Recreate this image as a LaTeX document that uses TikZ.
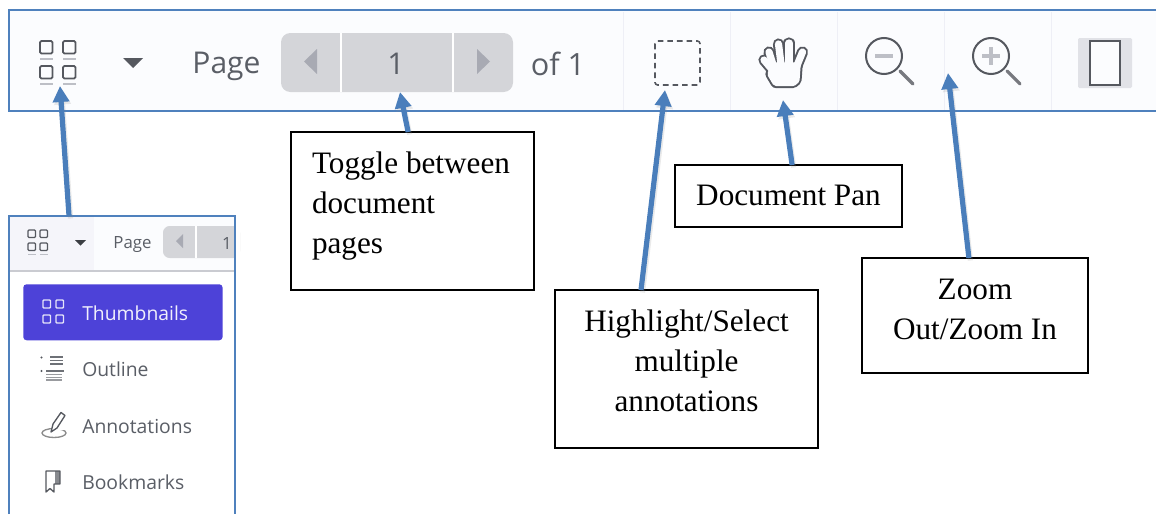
\documentclass[tikz,border=0pt]{standalone}
\usepackage{fontspec}
\setmainfont{Liberation Serif}
\newfontfamily\uifont{Open Sans}
\usetikzlibrary{arrows.meta,calc}
\newdimen\pxu \pxu=0.75pt
\definecolor{edgeblue}{HTML}{4F81BD}
\definecolor{arrowblue}{HTML}{4A7EBB}
\definecolor{barbg}{HTML}{FBFCFE}
\definecolor{sepc}{HTML}{EEEFF6}
\definecolor{pagerbg}{HTML}{D4D5D9}
\definecolor{tri}{HTML}{A8AAB3}
\definecolor{uitext}{HTML}{5A5E66}
\definecolor{icondark}{HTML}{55585F}
\definecolor{iconlite}{HTML}{BDBFC6}
\definecolor{violet}{HTML}{4D42D8}
\newcommand{\calloutbody}[5]{\parbox[c][#2\pxu][t]{#1\pxu}{\fontsize{23.4pt}{30pt}\selectfont\vspace*{#3\pxu}#4#5\par}}
\tikzset{
  x=0.75pt,y=-0.75pt,
  callout/.style={draw=black,line width=1.1pt,fill=white,inner sep=0pt,outer sep=0pt,anchor=north west,font=\rmfamily},
  pointer/.style={draw=arrowblue,line width=3.9pt,-{Triangle[width=12pt,length=12pt]}},
  pointershade/.style={draw=black!45,opacity=.18,line width=3.9pt,-{Triangle[width=12pt,length=12pt]}},
  sepline/.style={draw=sepc,line width=.75pt},
  frameedge/.style={draw=edgeblue,line width=1.6pt},
  uilabel/.style={inner sep=0pt,text=uitext,font=\uifont},
  icon/.style={draw=icondark,line width=1.4pt,rounded corners=1pt},
  iconunder/.style={draw=iconlite,line width=1.1pt},
  menutext/.style={uilabel,anchor=west,font=\uifont\fontsize{14.5pt}{17pt}\selectfont}
}
\begin{document}
\begin{tikzpicture}
\useasboundingbox (0,0) rectangle (1156,514);
% top toolbar
\node[fill=barbg,inner sep=0pt,minimum width=861pt,minimum height=75.75pt,anchor=north west] (toolbar) at (9,10) {};
\foreach \sx in {623,730,837,944,1051} \draw[sepline] (\sx,12) -- (\sx,110);
\draw[frameedge] (1156,10) -- (9,10) -- (9,111) -- (1156,111);
% thumbnails icon
\foreach \ix/\iy in {40/41,63/41,40/66,63/66}{
  \draw[icon] (\ix,\iy) rectangle ++(12.5,12.5);
  \draw[iconunder] (\ix,\iy+18) -- ++(12.5,0);
}
\fill[icondark] (123,58) -- (143,58) -- (133,68) -- cycle;
\node[uilabel,font=\uifont\fontsize{22.5pt}{26pt}\selectfont] (pagelabel) at (226.5,66) {Page};
% pager
\fill[pagerbg,rounded corners=7pt] (281,33) rectangle (513,92);
\draw[white,line width=1.6pt] (341,33) -- (341,92) (453,33) -- (453,92);
\fill[tri] (317,49) -- (317,74) -- (304,61.5) -- cycle;
\fill[tri] (477,49) -- (477,74) -- (490,61.5) -- cycle;
\node[uilabel,font=\uifont\fontsize{22.5pt}{26pt}\selectfont] (pagenum) at (396,64) {1};
\node[uilabel,font=\uifont\fontsize{23pt}{26pt}\selectfont] (ofone) at (558,64) {of 1};
% selection icon
\draw[draw=icondark,line width=1.2pt,dash pattern=on 4.2pt off 3pt,rounded corners=2pt] (655,41) rectangle (700,85);
% hand icon
\begin{scope}[line cap=round,line join=round]
  \foreach \w/\c in {8.4pt/icondark,5.4pt/barbg}{
    \draw[line width=\w,draw=\c] (764,60) -- (775,73);
    \draw[line width=\w,draw=\c] (774,68) -- (769,52);
    \draw[line width=\w,draw=\c] (781,64) -- (778.5,44);
    \draw[line width=\w,draw=\c] (789,64) -- (789,43);
    \draw[line width=\w,draw=\c] (796,68) -- (802.5,52);
    \draw[line width=\w,draw=\c,fill=\c] (775,66) -- (797,66) -- (796,80) -- (793,82.5) -- (776,82.5) -- (771,74) -- cycle;
  }
\end{scope}
% zoom icons
\draw[draw=icondark,line width=1.5pt] (884,56) circle (18);
\draw[draw=iconlite,line width=2.4pt] (875,56) -- (893,56);
\draw[draw=icondark!80,line width=2.4pt,line cap=round] (900,71) -- (913,84);
\draw[draw=icondark,line width=1.5pt] (991,56) circle (18);
\draw[draw=iconlite,line width=2.4pt] (982,56) -- (1000,56) (991,47) -- (991,65);
\draw[draw=icondark!80,line width=2.4pt,line cap=round] (1007,71) -- (1020,84);
% page view icon
\fill[fill=sepc!50!pagerbg,rounded corners=1pt] (1078,38) rectangle (1132,88);
\draw[draw=icondark,fill=barbg,line width=1.6pt] (1090,41) rectangle (1120,85);

% lower panel
\node[fill=white,inner sep=0pt,minimum width=169.5pt,minimum height=223.5pt,anchor=north west] (panel) at (9,216) {};
\fill[barbg] (10,217) rectangle (234,270);
\fill[sepc!60!white] (10,217) rectangle (94,270);
\fill[pagerbg,rounded corners=5pt] (163,226) rectangle (240,258);
\draw[white,line width=1pt] (196,226) -- (196,258);
\fill[tri] (183,234) -- (183,248) -- (176,241) -- cycle;
\fill[white] (234,217) rectangle (240,270);
\node[uilabel,font=\uifont\fontsize{12.6pt}{14pt}\selectfont] (minipage) at (132.5,245) {Page};
\node[uilabel,font=\uifont\fontsize{12.6pt}{14pt}\selectfont] (mininum) at (227,244) {1};
\foreach \ix/\iy in {28/230,40/230,28/243,40/243}{
  \draw[draw=icondark,line width=.9pt,rounded corners=.7pt] (\ix,\iy) rectangle ++(7.5,7.5);
}
\draw[iconunder,line width=.7pt] (28,254) -- (35.5,254) (40,254) -- (47.5,254);
\fill[icondark!70!black] (75,240) -- (86,240) -- (80.5,245.5) -- cycle;
\draw[draw=sepc!85!black,line width=1.2pt] (10,271) -- (234,271);
\node[fill=violet,rounded corners=2.5pt,inner sep=0pt,minimum width=149.5pt,minimum height=42pt,anchor=north west] (thumbbtn) at (23,284) {};
\foreach \ix/\iy in {43/300,56/300,43/315,56/315}{
  \draw[draw=white!85!violet,line width=1pt,rounded corners=.7pt] (\ix,\iy) rectangle ++(7.5,8);
}
\node[menutext,text=white!92!violet] (tthumb) at (82,313) {Thumbnails};
\node[menutext] (toutline) at (82,369.5) {Outline};
\node[menutext] (tannot) at (82,426) {Annotations};
\node[menutext] (tbook) at (82,482) {Bookmarks};
% outline icon
\fill[icondark] (41.5,357.5) circle (1.2) (41.5,371) circle (1.2);
\draw[draw=icondark!85,line width=1.1pt] (50,357) -- (63,357) (50,360.5) -- (63,360.5) (50,364) -- (63,364) (46,371) -- (64,371);
\draw[draw=icondark!60,line width=1.1pt] (46,374.5) -- (62,374.5) (46,377.5) -- (62,377.5) (46,380) -- (62,380);
% annotations icon
\draw[draw=gray!90,line width=1pt] (54,433) ellipse (12 and 4.5);
\fill[white] (52,424) rectangle (66,430);
\draw[draw=icondark,line width=1pt,fill=white,line join=round] (51,432) -- (53,424) -- (61,412.5) -- (65,415.5) -- (57,428) -- cycle;
% bookmarks icon
\fill[icondark!70] (55,471) rectangle (60,484);
\draw[draw=icondark,line width=1pt,line join=round] (46,471) -- (46,492) -- (50,488.5) -- (54,492) -- (54,484) -- (60,484) -- (60,471) -- cycle;
\draw[frameedge] (9,514) -- (9,216) -- (235,216) -- (235,514);

% callouts
\node[callout] (toggle) at (291,132) {\calloutbody{243}{158}{20}{\leftskip=21\pxu\rightskip=0pt plus 1fil\parindent=0pt}{Toggle between\\document\\pages}};
\node[callout] (pan) at (675,165) {\calloutbody{227}{62}{20}{\centering}{Document Pan}};
\node[callout] (hilite) at (555,290) {\calloutbody{263}{158}{20}{\centering}{Highlight/Select\\multiple\\annotations}};
\node[callout] (zoom) at (862,258) {\calloutbody{226}{115}{21}{\centering}{Zoom\\Out/Zoom In}};

% connector ends
\coordinate (tipthumb) at (60,86);
\coordinate (tippage) at (400,92);
\coordinate (tipsel) at (665,90);
\coordinate (tiphand) at (783,100);
\coordinate (tipzoom) at (948,73);
\coordinate (tailthumb) at ($(panel.north west)!.265!(panel.north east)$);
\coordinate (tailpage) at ($(toggle.north west)!.482!(toggle.north east)$);
\coordinate (tailsel) at ($(hilite.north west)!.327!(hilite.north east)$);
\coordinate (tailhand) at ($(pan.north west)!.516!(pan.north east)$);
\coordinate (tailzoom) at ($(zoom.north west)!.473!(zoom.north east)$);
\foreach \a/\b in {tailthumb/tipthumb,tailpage/tippage,tailsel/tipsel,tailhand/tiphand,tailzoom/tipzoom}{
  \draw[pointershade] ([shift={(1.5,2.5)}]\a) -- ([shift={(1.5,2.5)}]\b);
  \draw[pointer] (\a) -- (\b);
}
\end{tikzpicture}
\end{document}
